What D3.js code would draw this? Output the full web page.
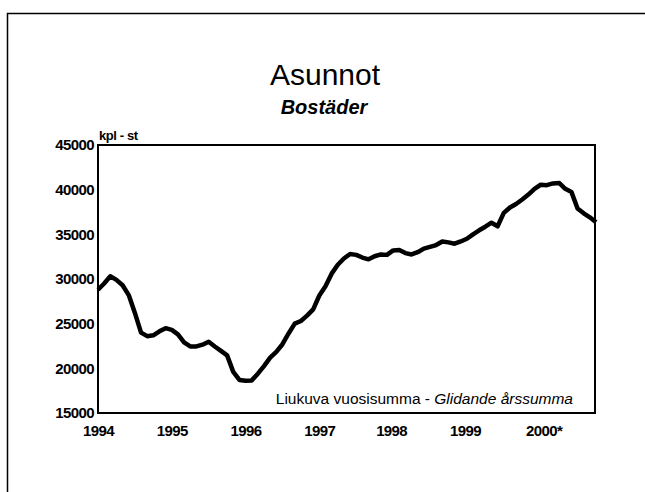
<!DOCTYPE html>
<html lang="fi">
<meta charset="utf-8">
<title>Asunnot - Bostäder</title>
<script src="https://d3js.org/d3.v7.min.js"></script>
<body>
<div id="chart"></div>
</body>

<style>
body {
  margin: 0;
  background: white;
}
.tick text {
  font-family: "Liberation Sans", Arial, sans-serif;
  font-weight: bold;
  letter-spacing: -0.6px;
  fill: black;
}
</style>

<script>
  // Monthly moving annual sum, Jan 1994 .. Oct 2000
  const yearLabels = ["1994", "1995", "1996", "1997", "1998", "1999", "2000*"];
  const yTicks = [15000, 20000, 25000, 30000, 35000, 40000, 45000];
  const values = [
    28800, 29500, 30300, 29900, 29300, 28200, 26200, 24000, 23600, 23700, 24150, 24500,
    24300, 23800, 22900, 22450, 22450, 22650, 22980, 22450, 21950, 21450, 19600, 18700,
    18600, 18650, 19400, 20250, 21200, 21850, 22700, 23900, 25000, 25300, 25900, 26600,
    28150, 29200, 30600, 31600, 32300, 32800, 32700, 32400, 32200, 32550, 32750, 32700,
    33200, 33250, 32900, 32750, 33000, 33400, 33600, 33800, 34200, 34100, 33950, 34200,
    34500, 35000, 35450, 35850, 36300, 35900, 37400, 38000, 38400, 38900, 39450, 40100,
    40550, 40500, 40700, 40750, 40100, 39750, 37900, 37350, 36900, 36350
  ];

  const W = 645, H = 492;
  const plot = {left: 98, right: 596, top: 145, bottom: 413};

  const svg = d3.select("#chart")
    .append("svg")
      .attr("width", W)
      .attr("height", H);

  // outer frame (cut off at right and bottom edge)
  svg.append("path")
    .attr("d", "M7.5," + H + " V13.5 H" + W)
    .attr("fill", "none")
    .attr("stroke", "black")
    .attr("stroke-width", 1.5);

  // titles
  svg.append("text")
    .attr("x", 325).attr("y", 85)
    .attr("text-anchor", "middle")
    .style("font-family", "'Liberation Sans', Arial, sans-serif")
    .style("font-size", "30px")
    .text("Asunnot");

  svg.append("text")
    .attr("x", 324).attr("y", 114)
    .attr("text-anchor", "middle")
    .style("font-family", "'Liberation Sans', Arial, sans-serif")
    .style("font-style", "italic")
    .style("font-weight", "bold")
    .style("font-size", "20px")
    .text("Bostäder");

  // scales
  const x = d3.scaleLinear()
    .domain([0, values.length - 1])
    .range([plot.left, plot.right]);

  const y = d3.scaleLinear()
    .domain([15000, 45000])
    .range([plot.bottom, plot.top]);

  // axes
  svg.append("g")
    .attr("transform", "translate(" + plot.left + ",0)")
    .call(d3.axisLeft(y).tickValues(yTicks).tickSize(0).tickPadding(4).tickFormat(d3.format("d")))
    .call(g => g.select(".domain").remove())
    .selectAll("text")
      .style("font-size", "15px");

  svg.append("g")
    .attr("transform", "translate(0," + plot.bottom + ")")
    .call(d3.axisBottom(x)
      .tickValues(yearLabels.map((d, i) => i * 12))
      .tickSize(0).tickPadding(12)
      .tickFormat((d, i) => yearLabels[i]))
    .call(g => g.select(".domain").remove())
    .selectAll("text")
      .style("font-size", "15px")
      .attr("dx", (d, i) => i === 6 ? "3px" : (i >= 4 ? "-2px" : "0px"));

  // unit
  svg.append("text")
    .attr("x", plot.left + 1).attr("y", 140)
    .style("font-family", "'Liberation Sans', Arial, sans-serif")
    .style("font-weight", "bold")
    .style("letter-spacing", "-0.4px")
    .style("font-size", "13px")
    .text("kpl - st");

  // plot frame
  svg.append("rect")
    .attr("x", plot.left).attr("y", plot.top)
    .attr("width", 595 - plot.left).attr("height", plot.bottom - plot.top)
    .attr("fill", "none")
    .attr("stroke", "black")
    .attr("stroke-width", 2);

  // data line
  const line = d3.line()
    .x((d, i) => x(i))
    .y(d => y(d));

  svg.append("path")
    .datum(values)
    .attr("d", line)
    .attr("fill", "none")
    .attr("stroke", "black")
    .attr("stroke-width", 4.5)
    .attr("stroke-linejoin", "round")
    .attr("stroke-linecap", "butt");

  // note inside plot
  const note = svg.append("text")
    .attr("x", 573).attr("y", 404)
    .attr("text-anchor", "end")
    .style("font-family", "'Liberation Sans', Arial, sans-serif")
    .style("font-size", "15.5px");
  note.append("tspan").text("Liukuva vuosisumma -  ");
  note.append("tspan").style("font-style", "italic").text("Glidande årssumma");
</script>
</html>
